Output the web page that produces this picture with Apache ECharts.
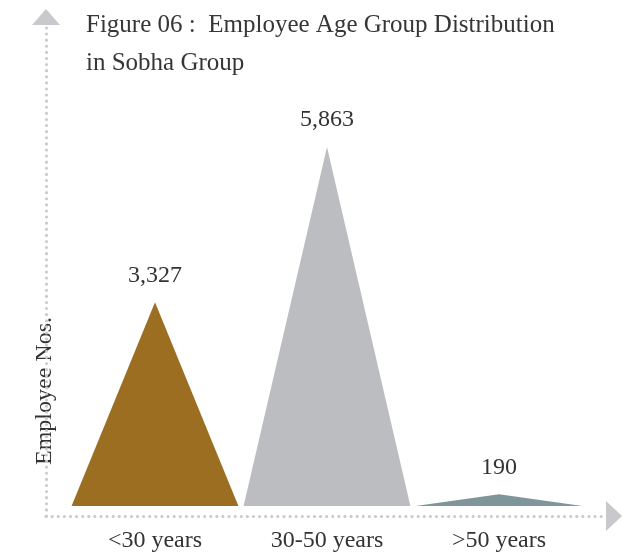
<!DOCTYPE html>
<html><head><meta charset="utf-8">
<script src="https://cdn.jsdelivr.net/npm/echarts@6/dist/echarts.min.js"></script>
<style>html,body{margin:0;padding:0;background:#fff}#c{width:623px;height:556px}</style>
</head><body><div id="c"></div>
<script>
const categories = ['<30 years', '30-50 years', '>50 years'];
const values = [3327, 5863, 190];
const colors = ['#9B6E22', '#BCBDC0', '#7E969A'];
const titleText = 'Figure 06 :  Employee Age Group Distribution\nin Sobha Group';
const yName = 'Employee Nos.';

const serif = '"Liberation Serif", "DejaVu Serif", serif';
const axisGray = '#C9C9CD';
const chart = echarts.init(document.getElementById('c'), null, {renderer: 'canvas'});
chart.setOption({
  animation: false,
  backgroundColor: '#fff',
  title: {
    text: titleText, left: 86, top: 6, padding: 0,
    textStyle: {fontFamily: serif, fontSize: 25, fontWeight: 'normal', color: '#363636', lineHeight: 38}
  },
  grid: [
    {left: 69, right: 38, top: 147, bottom: 50},
    {left: 46, right: 17, top: 25, bottom: 40}
  ],
  xAxis: [
    {type: 'category', gridIndex: 0, data: categories,
     axisLine: {show: false}, axisTick: {show: false},
     axisLabel: {margin: 23, fontFamily: serif, fontSize: 24, color: '#333'}},
    {type: 'value', gridIndex: 1, min: 0, max: 1,
     axisLine: {show: true, symbol: ['none', 'triangle'], symbolSize: [30, 16], symbolOffset: [0, 8],
       lineStyle: {color: axisGray, width: 3, type: [0.1, 6], cap: 'round'}},
     axisTick: {show: false}, axisLabel: {show: false}, splitLine: {show: false}}
  ],
  yAxis: [
    {type: 'value', gridIndex: 0, min: 0, max: Math.max(...values), show: false},
    {type: 'value', gridIndex: 1, min: 0, max: 1,
     axisLine: {show: true, symbol: ['none', 'triangle'], symbolSize: [28, 16], symbolOffset: [0, 8],
       lineStyle: {color: axisGray, width: 3, type: [0.1, 6], cap: 'round'}},
     axisTick: {show: false}, axisLabel: {show: false}, splitLine: {show: false}}
  ],
  graphic: [{
    type: 'text', left: 33, top: 314, rotation: Math.PI / 2,
    style: {text: yName, font: '24px ' + serif, fill: '#333', backgroundColor: '#fff', padding: [0, 3]}
  }],
  series: [{
    type: 'pictorialBar', xAxisIndex: 0, yAxisIndex: 0,
    symbol: 'triangle', symbolSize: ['100%', '100%'], barWidth: '97%',
    data: values.map((v, i) => ({value: v, itemStyle: {color: colors[i]}})),
    label: {show: true, position: 'top', distance: 15, fontFamily: serif, fontSize: 24, color: '#333',
      formatter: p => p.value.toLocaleString('en-US')}
  }]
});
</script></body></html>
